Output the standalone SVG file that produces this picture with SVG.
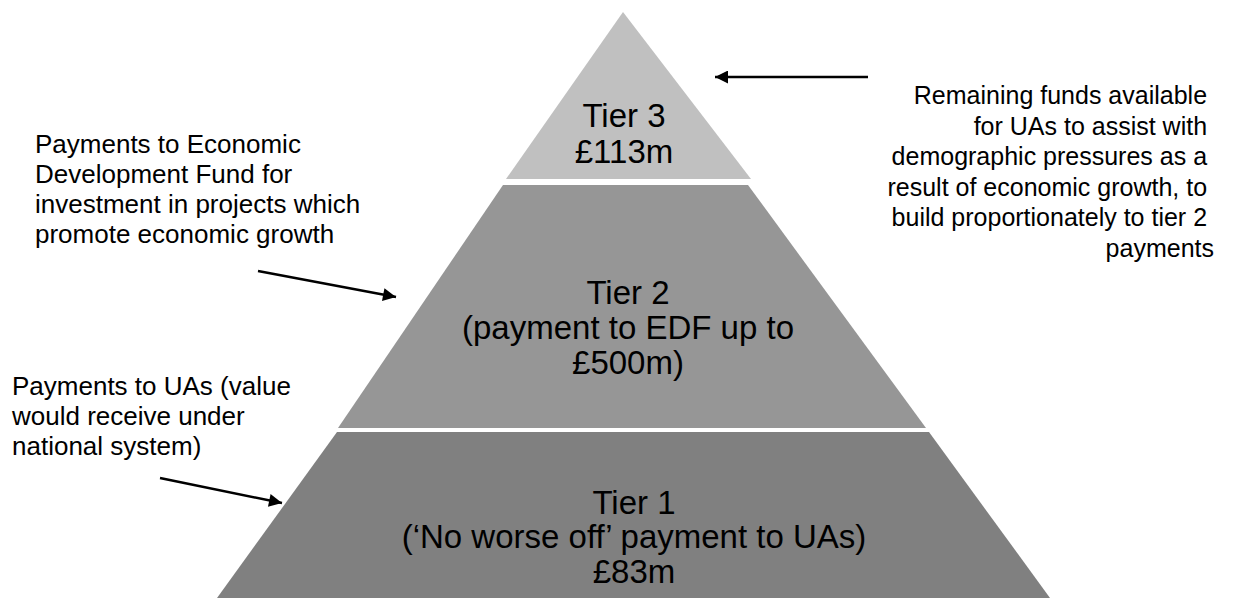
<svg xmlns="http://www.w3.org/2000/svg" width="1249" height="598" viewBox="0 0 1249 598">
<style>
.lbl{font-family:"Liberation Sans",Arial,sans-serif;font-size:33px;fill:#000;text-anchor:middle}
.side{font-family:"Liberation Sans",Arial,sans-serif;font-size:26px;fill:#000}
.side-r{font-family:"Liberation Sans",Arial,sans-serif;font-size:25px;fill:#000;text-anchor:end}
.arr{stroke:#000;stroke-width:2.5;fill:none;marker-end:url(#ah)}
</style>
<defs>
<marker id="ah" viewBox="0 0 10 10" refX="10" refY="5" markerWidth="16" markerHeight="13" markerUnits="userSpaceOnUse" orient="auto">
<path d="M0,0 L10,5 L0,10 Z" fill="#000"/>
</marker>
</defs>
<rect width="1249" height="598" fill="#fff"/>
<g id="tier3">
<polygon points="623,12 751,179 506,179" fill="#c0c0c0"/>
<text class="lbl" x="624" y="127">Tier 3</text>
<text class="lbl" x="624" y="163">£113m</text>
</g>
<g id="tier2">
<polygon points="503,185 748,185 926,428 338,428" fill="#969696"/>
<text class="lbl" x="628" y="304">Tier 2</text>
<text class="lbl" x="628" y="339">(payment to EDF up to</text>
<text class="lbl" x="628" y="374">£500m)</text>
</g>
<g id="tier1">
<polygon points="337,432 929,432 1050,598 217,598" fill="#808080"/>
<text class="lbl" x="634" y="514">Tier 1</text>
<text class="lbl" x="634" y="548">(‘No worse off’ payment to UAs)</text>
<text class="lbl" x="634" y="583">£83m</text>
</g>
<g id="note-tier3">
<text class="side-r">
<tspan x="1214" y="104">Remaining funds available</tspan>
<tspan x="1214" y="134.5">for UAs to assist with</tspan>
<tspan x="1214" y="165">demographic pressures as a</tspan>
<tspan x="1214" y="195.5">result of economic growth, to</tspan>
<tspan x="1214" y="226">build proportionately to tier 2</tspan>
<tspan x="1214" y="256.5">payments</tspan>
</text>
</g>
<g id="note-tier2">
<text class="side">
<tspan x="35" y="153">Payments to Economic</tspan>
<tspan x="35" y="183">Development Fund for</tspan>
<tspan x="35" y="213">investment in projects which</tspan>
<tspan x="35" y="243">promote economic growth</tspan>
</text>
</g>
<g id="note-tier1">
<text class="side">
<tspan x="12" y="395">Payments to UAs (value</tspan>
<tspan x="12" y="425">would receive under</tspan>
<tspan x="12" y="455">national system)</tspan>
</text>
</g>
<g id="connectors">
<line class="arr" x1="868" y1="77" x2="715" y2="77"/>
<line class="arr" x1="258" y1="271" x2="396" y2="297"/>
<line class="arr" x1="160" y1="478" x2="282" y2="503"/>
</g>
</svg>
